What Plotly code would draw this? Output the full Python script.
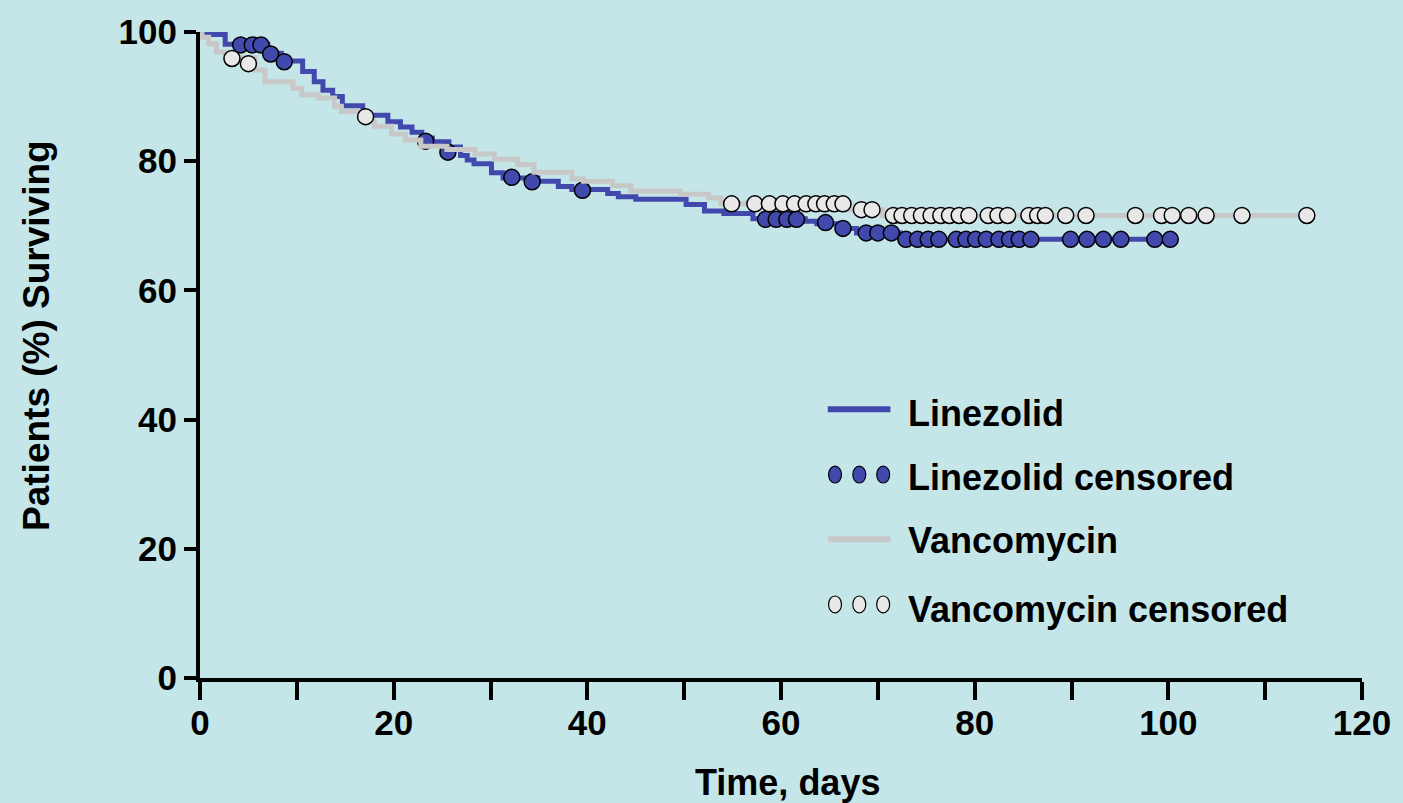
import plotly.graph_objects as go

# ---- data ----
lin_t = [0, 0.3, 2.6, 7.0, 8.4, 10.6, 11.8, 12.7, 13.7, 14.7, 16.8, 19.4, 20.7, 21.9, 22.9,
         24.0, 25.7, 26.9, 27.6, 28.3, 30.1, 31.3, 34.9, 37.0, 38.4, 42.1, 43.2, 45.0, 50.2,
         52.1, 54.1, 57.1, 62.5, 63.7, 65.8, 67.8, 72.3, 100.2]
lin_s = [100, 99.6, 98.1, 96.7, 95.5, 93.9, 92.3, 91.0, 90.0, 88.6, 87.1, 86.1, 85.3, 84.5, 83.6,
         83.0, 82.2, 80.9, 80.2, 79.6, 78.2, 77.4, 76.9, 76.1, 75.6, 75.0, 74.5, 74.1, 73.3,
         72.3, 71.9, 71.1, 70.7, 70.3, 69.6, 68.9, 67.9, 67.9]

lin_cens_t = [4.2, 5.4, 6.3, 7.3, 8.7, 23.3, 25.6, 32.2, 34.3, 39.5,
              58.4, 59.5, 60.6, 61.6, 64.6, 66.4, 68.8, 70.0, 71.4,
              72.9, 74.1, 75.2, 76.3, 78.1, 79.1, 80.1, 81.2, 82.5, 83.6, 84.6, 85.8,
              89.9, 91.6, 93.3, 95.1, 98.6, 100.2]
lin_cens_s = [98.0, 98.0, 98.0, 96.6, 95.4, 83.1, 81.4, 77.5, 76.8, 75.5,
              71.0, 71.0, 71.0, 71.0, 70.5, 69.6, 68.9, 68.9, 68.9,
              67.9, 67.9, 67.9, 67.9, 67.9, 67.9, 67.9, 67.9, 67.9, 67.9, 67.9, 67.9,
              67.9, 67.9, 67.9, 67.9, 67.9, 67.9]

van_t = [0, 0.2, 0.9, 1.7, 2.6, 5.7, 6.7, 9.6, 10.5, 12.2, 13.9, 14.6, 17.0, 18.0, 19.8,
         21.2, 22.8, 25.5, 28.4, 30.4, 32.8, 34.5, 38.4, 39.6, 42.6, 44.5, 49.6, 52.5, 53.8,
         67.1, 70.5, 114.3]
van_s = [100, 99.2, 98.2, 96.9, 96.0, 94.1, 92.3, 91.3, 90.3, 89.8, 88.5, 87.7, 86.2, 85.4, 84.2,
         83.3, 82.3, 81.8, 81.1, 80.3, 79.5, 78.3, 77.3, 76.9, 76.2, 75.4, 74.9, 74.3, 73.4,
         72.5, 71.6, 71.6]

van_cens_t = [3.3, 5.0, 17.1,
              54.9, 57.3, 58.8, 60.2, 61.4, 62.6, 63.6, 64.5, 65.5, 66.4,
              68.3, 69.4,
              71.6, 72.5, 73.5, 74.5, 75.5, 76.5, 77.4, 78.4, 79.4,
              81.4, 82.4, 83.4, 85.6, 86.5, 87.3, 89.4, 91.5, 96.6, 99.3, 100.4, 102.1,
              103.9, 107.6, 114.3]
van_cens_s = [95.9, 95.1, 86.9,
              73.4, 73.4, 73.4, 73.4, 73.4, 73.4, 73.4, 73.4, 73.4, 73.4,
              72.5, 72.5,
              71.6, 71.6, 71.6, 71.6, 71.6, 71.6, 71.6, 71.6, 71.6,
              71.6, 71.6, 71.6, 71.6, 71.6, 71.6, 71.6, 71.6, 71.6, 71.6, 71.6, 71.6,
              71.6, 71.6, 71.6]

x_ticks = [0, 20, 40, 60, 80, 100, 120]
y_ticks = [0, 20, 40, 60, 80, 100]
legend_labels = ["Linezolid", "Linezolid censored", "Vancomycin", "Vancomycin censored"]

BLUE = "#4149AD"
GRAY = "#C8C8C8"
WHITE_M = "#E8E8E8"
BG = "#C4E6E9"
FONT = "Liberation Sans, Arial, sans-serif"

fig = go.Figure()
fig.add_trace(go.Scatter(x=lin_t, y=lin_s, mode="lines", line=dict(color=BLUE, width=5, shape="hv"),
                         name=legend_labels[0], showlegend=False))
fig.add_trace(go.Scatter(x=lin_cens_t, y=lin_cens_s, mode="markers",
                         marker=dict(symbol="circle", size=16, color=BLUE, line=dict(color="black", width=1.5)),
                         name=legend_labels[1], showlegend=False))
fig.add_trace(go.Scatter(x=van_t, y=van_s, mode="lines", line=dict(color=GRAY, width=5, shape="hv"),
                         name=legend_labels[2], showlegend=False))
fig.add_trace(go.Scatter(x=van_cens_t, y=van_cens_s, mode="markers",
                         marker=dict(symbol="circle", size=16, color=WHITE_M, line=dict(color="black", width=1.5)),
                         name=legend_labels[3], showlegend=False))

W, H = 1403, 803
L, R, T, B = 200, 35, 28, 125
PW, PH = W - L - R, H - T - B

def px(xp):
    return (xp - L) / PW

def py(yp):
    return (H - B - yp) / PH

annotations = []
shapes = []
# legend rows
rows = [(407.7, 411.5, "line", BLUE), (473.3, 476.5, "marker", BLUE),
        (538.3, 540.0, "line", GRAY), (604.0, 609.0, "marker", WHITE_M)]
for (sym_y, txt_y, kind, col), lab in zip(rows, legend_labels):
    if kind == "line":
        shapes.append(dict(type="line", xref="paper", yref="paper", x0=px(831), x1=px(894),
                           y0=py(sym_y), y1=py(sym_y), line=dict(color=col, width=6)))
    else:
        for cx in (838.3, 862.7, 886.7):
            shapes.append(dict(type="circle", xref="paper", yref="paper",
                               x0=px(cx - 6.5), x1=px(cx + 6.5), y0=py(sym_y + 8.5), y1=py(sym_y - 8.5),
                               fillcolor=col, line=dict(color="black", width=1.2)))
    annotations.append(dict(text=lab, xref="paper", yref="paper", x=px(910), y=py(txt_y),
                            xanchor="left", yanchor="middle", showarrow=False,
                            font=dict(family=FONT, size=36, color="black", weight="bold")))

annotations.append(dict(text="Time, days", xref="paper", yref="paper", x=px(791), y=py(783),
                        xanchor="center", yanchor="middle", showarrow=False,
                        font=dict(family=FONT, size=36, color="black", weight="bold")))
annotations.append(dict(text="Patients (%) Surviving", xref="paper", yref="paper", x=px(35), y=py(333),
                        xanchor="center", yanchor="middle", showarrow=False, textangle=-90,
                        font=dict(family=FONT, size=37, color="black", weight="bold")))

fig.update_layout(
    width=W, height=H,
    margin=dict(l=L, r=R, t=T, b=B, pad=0),
    paper_bgcolor=BG, plot_bgcolor=BG,
    showlegend=False,
    annotations=annotations,
    shapes=shapes,
    xaxis=dict(range=[0, 120], tickvals=x_ticks, ticktext=[str(v) for v in x_ticks],
               showgrid=False, zeroline=False, showline=True, linecolor="black", linewidth=4,
               ticks="outside", ticklen=18, tickwidth=4, tickcolor="black", ticklabelstandoff=-7,
               minor=dict(dtick=10, tick0=0, ticks="outside", ticklen=18, tickwidth=4, tickcolor="black"),
               tickfont=dict(family=FONT, size=35, color="black", weight="bold")),
    yaxis=dict(range=[0, 100], tickvals=y_ticks, ticktext=[str(v) for v in y_ticks],
               showgrid=False, zeroline=False, showline=True, linecolor="black", linewidth=4,
               ticks="outside", ticklen=12, tickwidth=4, tickcolor="black",
               tickfont=dict(family=FONT, size=35, color="black", weight="bold")),
)

fig.write_html("out.html", config={"displayModeBar": False},
               post_script="document.body.style.margin='0';document.body.style.overflow='hidden';")
